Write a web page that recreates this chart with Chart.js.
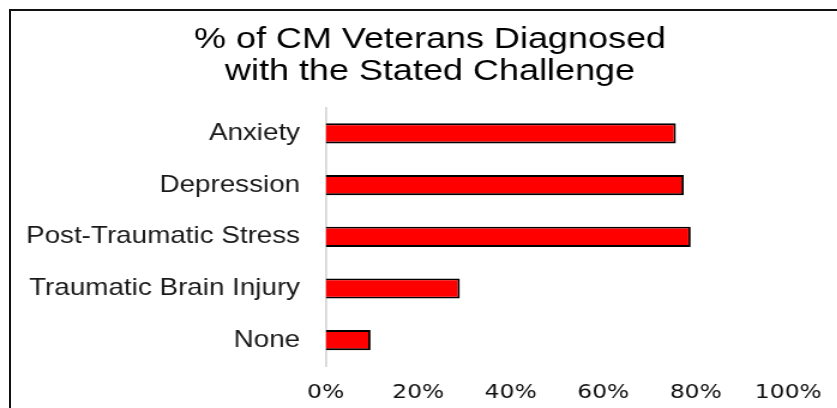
<!DOCTYPE html>
<html>
<head>
<meta charset="utf-8">
<script src="https://cdn.jsdelivr.net/npm/chart.js@4/dist/chart.umd.min.js"></script>
<style>
  html, body { margin: 0; padding: 0; background: #ffffff; overflow: hidden; }
  #wrap { position: relative; width: 837px; height: 408px; overflow: hidden; background: #fff; }
  #frame { position: absolute; left: 9px; top: 9px; width: 900px; height: 500px;
           border: 2px solid #111; box-sizing: border-box; pointer-events: none; }
</style>
</head>
<body>
<div id="wrap">
  <canvas id="c" width="717" height="408" style="position:absolute;left:0;top:0;width:859.77px;height:408px;"></canvas>
  <div id="frame"></div>
</div>
<script>
// ---- data ----
const titleLines = ['% of CM Veterans Diagnosed', 'with the Stated Challenge'];
const categories = ['Anxiety', 'Depression', 'Post-Traumatic Stress', 'Traumatic Brain Injury', 'None'];
const percentDiagnosed = [75.7, 77.4, 78.9, 29.0, 9.7];
const tickValues = [0, 20, 40, 60, 80, 100];

const ctx = document.getElementById('c');
new Chart(ctx, {
  type: 'bar',
  data: {
    labels: categories,
    datasets: [{
      data: percentDiagnosed,
      yAxisID: 'y',
      backgroundColor: '#ff0000',
      borderColor: '#000000',
      borderWidth: 1.9,
      borderSkipped: 'start',
      categoryPercentage: 1.0,
      barPercentage: 0.39
    }]
  },
  options: {
    indexAxis: 'y',
    responsive: false,
    animation: false,
    devicePixelRatio: 1,
    layout: { padding: 0 },
    plugins: {
      legend: { display: false },
      tooltip: { enabled: false },
      title: {
        display: true,
        text: titleLines,
        color: '#000000',
        font: { family: 'Liberation Sans', size: 30, weight: 'normal', lineHeight: 32 / 30 },
        padding: { top: 23.6, bottom: 20 }
      }
    },
    scales: {
      x: {
        min: 0,
        max: 100,
        afterBuildTicks: (scale) => { scale.ticks = tickValues.map(v => ({ value: v })); },
        afterFit: (scale) => { scale.height = 42; },
        grid: { display: false, drawTicks: false },
        border: { display: false },
        ticks: {
          callback: (v) => v + '%',
          color: '#111111',
          padding: 15.5,
          maxRotation: 0,
          font: { family: 'DejaVu Sans', size: 19.5 }
        }
      },
      y: {
        afterFit: (scale) => { scale.width = 271.5; },
        grid: { display: false, drawTicks: false },
        border: { display: true, color: '#d9d9d9', width: 1.8 },
        ticks: {
          color: '#1a1a1a',
          padding: 21.3,
          font: { family: 'Liberation Sans', size: 23.2 }
        }
      },
      yRightSpace: {
        type: 'category',
        position: 'right',
        labels: categories,
        afterFit: (scale) => { scale.width = 59.8; },
        grid: { display: false, drawTicks: false },
        border: { display: false },
        ticks: { display: false }
      }
    }
  }
});
</script>
</body>
</html>
